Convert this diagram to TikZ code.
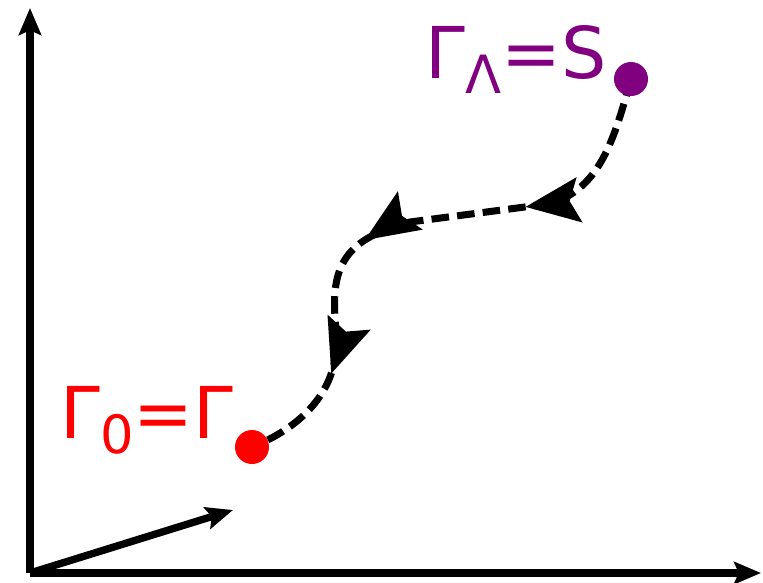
\documentclass[tikz,border=0pt]{standalone}
\usepackage{fontspec}
\setmainfont{DejaVu Sans}
\usetikzlibrary{arrows.meta,decorations.markings}
\definecolor{fin}{RGB}{128,0,128}
\definecolor{ini}{RGB}{255,0,0}
\begin{document}
\begin{tikzpicture}[x=0.03cm,y=-0.03cm,line width=6pt,
                    >={Stealth[length=23pt,width=19pt,inset=4pt]}]
  \tikzstyle{axis}=[->,line width=6.3pt]
  \tikzstyle{point}=[circle,inner sep=0pt,minimum size=0.98cm]
  \tikzstyle{etiqueta}=[anchor=base west,inner sep=0pt,font=\fontsize{61}{70}\selectfont]
  \tikzstyle{flujo}=[line width=6pt,dash pattern=on 15pt off 7pt,
                     postaction={decorate},
                     decoration={markings,
                       mark=at position 0.30 with {\arrow{Stealth[length=46pt,width=38pt,inset=8pt]}},
                       mark=at position 0.575 with {\arrow{Stealth[length=46pt,width=38pt,inset=8pt]}},
                       mark=at position 0.815 with {\arrow{Stealth[length=46pt,width=38pt,inset=8pt]}}}]
  \useasboundingbox (0,0) rectangle (763,582);
  %Ejes
  \coordinate (o) at (30,573);
  \coordinate (ytop) at (30,8);
  \coordinate (xend) at (761,573);
  \coordinate (v) at (233,510);
  \draw[axis] (o) -- (ytop);
  \draw[axis] (o) -- (xend);
  \draw[axis] (o) -- (v);
  %Puntos
  \node[point] (gl) at (631,79) {};
  \node[point] (g0) at (252,447) {};
  %Camino
  \draw[flujo] (gl.center) .. controls (615,135) and (600,197) .. (540,205)
        -- (410,222) .. controls (340,240) and (330,270) .. (336,330)
        .. controls (342,390) and (300,428) .. (g0.center);
  \fill[fin] (gl) circle (17);
  \fill[ini] (g0) circle (17);
  %Etiquetas
  \node[etiqueta,text=fin] (tl) at (422,78)
    {Γ\raisebox{-0.22em}{\fontsize{45}{50}\selectfont Λ}=S};
  \node[etiqueta,text=ini] (t0) at (57,438)
    {Γ\raisebox{-0.22em}{\fontsize{45}{50}\selectfont 0}=Γ};
\end{tikzpicture}
\end{document}
